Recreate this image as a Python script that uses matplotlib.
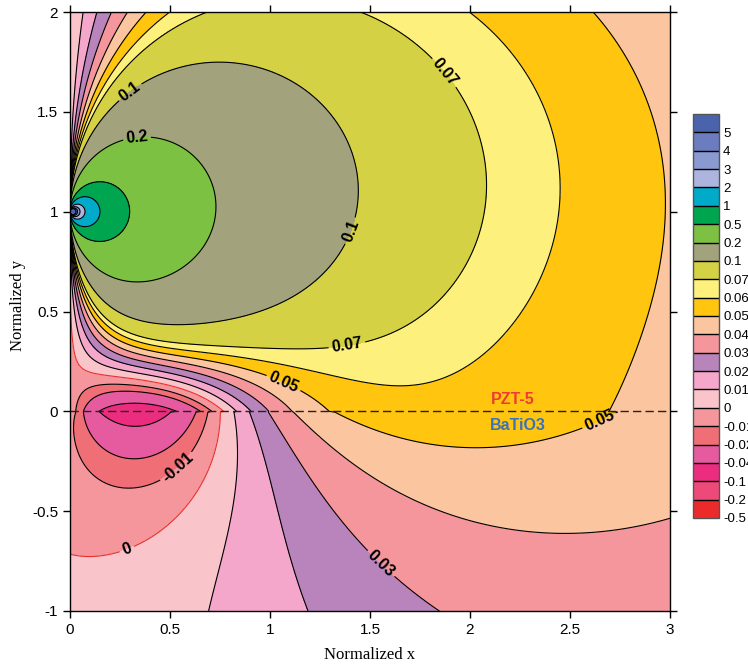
import numpy as np
import matplotlib.pyplot as plt

plt.rcParams['font.family'] = ['Liberation Sans', 'DejaVu Sans']

# --- contour levels and fill colours (bottom -> top) ---
levels = [-0.5, -0.2, -0.1, -0.04, -0.02, -0.01, 0, 0.01, 0.02, 0.03, 0.04,
          0.05, 0.06, 0.07, 0.1, 0.2, 0.5, 1, 2, 3, 4, 5, 100]
fill_colors = ['#ed2a2a', '#ee4a79', '#ec2c7f', '#e65aa0', '#f06e76', '#f4969c',
               '#f9c5cb', '#f4a7ca', '#b884bb', '#f4969c', '#fbc69f', '#ffc50f',
               '#fdf07c', '#d5d145', '#a2a27c', '#7cc142', '#00a550', '#00aac9',
               '#adb5df', '#8a99d0', '#6b7cbf', '#4b63ad']

# strength of the source at (0, 1), from the small circles round it
SOURCE = 0.15
# height over which the interface correction fades out in PZT-5
FADE_UP = 1.1

# --- values (x, y, level) ---
# along the interface y = 0 (shared by both materials)
iface_x = [0.0, 0.033, 0.067, 0.14, 0.3, 0.5, 0.625, 0.68, 0.747, 0.825, 0.9,
           0.99, 1.12, 1.3, 1.65, 2.0, 2.4, 2.75, 3.0]
iface_v = [-0.005, -0.01, -0.02, -0.04, -0.052, -0.04, -0.02, -0.01, 0.0, 0.01,
           0.02, 0.03, 0.04, 0.05, 0.054, 0.055, 0.054, 0.05, 0.046]

# PZT-5 (upper half)
up_x = [0.735, 1.4, 2.0, 2.39, 2.87, 1.81, 1.375,
        0.067, 0.133, 0.197, 0.267, 0.377, 0.488, 0.68, 1.46, 2.0, 2.63,
        2.82, 2.88, 2.9, 2.87, 2.33,
        1.72, 1.48, 1.3, 0.92, 0.53,
        2.0, 1.7, 1.3, 0.92, 0.53,
        1.15, 1.06, 0.92, 0.53,
        0.92, 0.53,
        0.5, 0.75, 0.95, 0.375,
        0.047, 0.08, 0.2, 0.5, 0.7, 0.8,
        0.0, 0.2, 0.45, 0.65, 0.73,
        0.32, 0.33, 0.35, 0.09, 0.62,
        0.0, 0.0, 0.0]
up_y = [1.0, 1.0, 1.0, 1.0, 1.0, 1.645, 0.915,
        2.0, 2.0, 2.0, 2.0, 2.0, 2.0, 2.0, 2.0, 2.0, 2.0,
        0.17, 0.3, 0.6, 1.5, 0.5,
        0.455, 0.345, 0.315, 0.31, 0.33,
        0.12, 0.105, 0.165, 0.265, 0.305,
        0.095, 0.125, 0.215, 0.28,
        0.15, 0.255,
        0.425, 0.43, 0.465, 0.635,
        0.44, 0.32, 0.255, 0.215, 0.14, 0.04,
        0.185, 0.175, 0.147, 0.09, 0.02,
        0.04, 0.088, 0.125, 0.09, 0.08,
        0.5, 1.5, 2.0]
up_v = [0.2, 0.1, 0.07, 0.06, 0.05, 0.07, 0.1,
        0.01, 0.02, 0.03, 0.04, 0.05, 0.06, 0.07, 0.07, 0.06, 0.05,
        0.05, 0.05, 0.05, 0.05, 0.06,
        0.07, 0.07, 0.07, 0.07, 0.07,
        0.06, 0.06, 0.06, 0.06, 0.06,
        0.05, 0.05, 0.05, 0.05,
        0.04, 0.04,
        0.1, 0.1, 0.1, 0.2,
        0.01, 0.01, 0.01, 0.01, 0.01, 0.01,
        0.0, 0.0, 0.0, 0.0, 0.0,
        -0.04, -0.02, -0.01, -0.01, -0.01,
        0.002, 0.0008, 0.0008]

# BaTiO3 (lower half)
lo_x = [0.33, 0.25, 0.42,
        0.117, 0.33, 0.53, 0.617,
        0.05, 0.15, 0.33, 0.5, 0.65,
        0.0, 0.29, 0.5, 0.67, 0.73,
        0.815, 0.79, 0.76,
        0.98, 1.12, 1.24,
        1.12, 1.28, 1.45, 1.935,
        1.55, 1.97, 2.38, 2.72, 2.97,
        1.65, 1.97, 2.32, 2.58,
        0.0, 0.0, 0.4, 2.5, 3.0, 3.0]
lo_y = [-0.092, -0.06, -0.06,
        -0.13, -0.24, -0.195, -0.08,
        -0.145, -0.31, -0.375, -0.33, -0.145,
        -0.758, -0.7, -0.545, -0.345, -0.11,
        -0.345, -0.68, -1.0,
        -0.345, -0.68, -1.0,
        -0.26, -0.51, -0.645, -1.0,
        -0.36, -0.51, -0.6, -0.56, -0.5,
        -0.155, -0.2, -0.18, -0.095,
        -0.3, -1.0, -1.0, -1.0, -1.0, -0.25]
lo_v = [-0.04, -0.04, -0.04,
        -0.02, -0.02, -0.02, -0.02,
        -0.01, -0.01, -0.01, -0.01, -0.01,
        0.0, 0.0, 0.0, 0.0, 0.0,
        0.01, 0.01, 0.01,
        0.02, 0.02, 0.02,
        0.03, 0.03, 0.03, 0.03,
        0.04, 0.04, 0.04, 0.04, 0.04,
        0.05, 0.05, 0.05, 0.05,
        -0.008, 0.004, 0.006, 0.035, 0.036, 0.045]

up_poles = [-0.25, -0.6, -1.2]
lo_poles = [0.25, 0.6, 1.2]

# contour labels: level and where it sits
label_lv = [0.1, 0.2, 0.07, 0.1, 0.07, 0.05, 0.05, 0.03, -0.01, 0]
label_xy = [(0.30, 1.60), (0.335, 1.37), (1.81, 1.645), (1.375, 0.915),
            (1.385, 0.33), (1.06, 0.125), (2.65, -0.055), (1.5, -0.82),
            (0.535, -0.28), (0.29, -0.705)]


def source(x, y):
    return SOURCE * x / (x**2 + (y - 1)**2)


def columns(x, y, poles, fade=None):
    taper = 1.0 if fade is None else np.exp(-(np.maximum(y, 0) / fade)**2)
    cols = []
    for p in poles:
        w = x + 1j * (y - p)
        for n in (1, 2, 3):
            g = w ** (-n)
            cols += [g.real * taper, g.imag * taper]
    return cols


def fit(x, y, v, poles, fade=None, ridge=3e-3):
    # least squares for the correction to the source field
    x, y, v = np.asarray(x), np.asarray(y), np.asarray(v)
    B = np.stack(columns(x, y, poles, fade), axis=-1)
    scale = np.sqrt((B**2).mean(axis=0))
    A = np.vstack([B / scale, np.sqrt(ridge) * np.eye(B.shape[1])])
    rhs = np.concatenate([v - source(x, y), np.zeros(B.shape[1])])
    c = np.linalg.lstsq(A, rhs, rcond=None)[0]
    return c / scale


def evaluate(x, y, coef, poles, fade=None):
    cols = columns(x, y, poles, fade)
    return source(x, y) + sum(c * col for c, col in zip(coef, cols))


y0 = [0.0] * len(iface_x)
cu = fit(up_x + iface_x, up_y + y0, up_v + iface_v, up_poles, FADE_UP)
cl = fit(lo_x + iface_x, lo_y + y0, lo_v + iface_v, lo_poles)

xg = np.linspace(0, 3, 751)
yg = np.linspace(-1, 2, 751)
X, Y = np.meshgrid(xg, yg)
with np.errstate(all='ignore'):
    Zu = evaluate(X, Y, cu, up_poles, FADE_UP)
    Zl = evaluate(X, Y, cl, lo_poles)
Z = np.where(Y >= 0, Zu, Zl)
Z = np.nan_to_num(Z, nan=100.0, posinf=100.0, neginf=-0.5)
Z = np.clip(Z, -0.49, 99)

fig = plt.figure(figsize=(7.48, 6.67), dpi=100)
ax = fig.add_axes([70 / 748, 1 - 611 / 667, 600 / 748, 599 / 667])

cf = ax.contourf(X, Y, Z, levels=levels, colors=fill_colors)

# one line set per level, so labels can be cut into the right one
line_sets = {}
for lv in levels[1:-1]:
    line_sets[lv] = ax.contour(X, Y, Z, levels=[lv],
                               colors='#e8302a' if lv == 0 else 'black',
                               linewidths=0.8, linestyles='solid')
for lv, pos in zip(label_lv, label_xy):
    lab = line_sets[lv].clabel(manual=[pos], fmt=lambda v: f'{v:g}',
                               fontsize=11.5, inline=True, inline_spacing=3)
    for t in lab:
        t.set_fontweight('bold')
        t.set_color('black')

ax.axhline(0, color='#222222', lw=1.0, dashes=(6, 3))
ax.text(2.215, 0.058, 'PZT-5', color='#ee3b33', fontsize=11.5, fontweight='bold',
        ha='center', va='center')
ax.text(2.24, -0.07, 'BaTiO3', color='#3b72b8', fontsize=11.5, fontweight='bold',
        ha='center', va='center')

ax.set_xlim(0, 3)
ax.set_ylim(-1, 2)
ax.set_xticks(np.arange(0, 3.01, 0.5))
ax.set_yticks(np.arange(-1, 2.01, 0.5))
ax.set_xticklabels([f'{v:g}' for v in np.arange(0, 3.01, 0.5)])
ax.set_yticklabels([f'{v:g}' for v in np.arange(-1, 2.01, 0.5)])
ax.tick_params(direction='out', length=5, width=1, top=True, right=True,
               labelsize=11)
for s in ax.spines.values():
    s.set_linewidth(1.0)

fig.text(370 / 748, 1 - 655 / 667, 'Normalized x', ha='center', va='center',
         family='Liberation Serif', fontsize=12)
fig.text(18 / 748, 1 - 305 / 667, 'Normalized y', ha='center', va='center',
         rotation=90, family='Liberation Serif', fontsize=12)

cax = fig.add_axes([693 / 748, 1 - 518 / 667, 26 / 748, 404 / 667])
cb = fig.colorbar(cf, cax=cax, ticks=levels[:-1], drawedges=True)
cb.ax.set_yticklabels([f'{v:g}' for v in levels[:-1]])
cb.ax.tick_params(length=0, pad=3, labelsize=9.5)
cb.outline.set_edgecolor('#555555')
cb.outline.set_linewidth(1.0)
cb.dividers.set_color('black')
cb.dividers.set_linewidth(1.0)

fig.savefig('out.png', dpi=100)
